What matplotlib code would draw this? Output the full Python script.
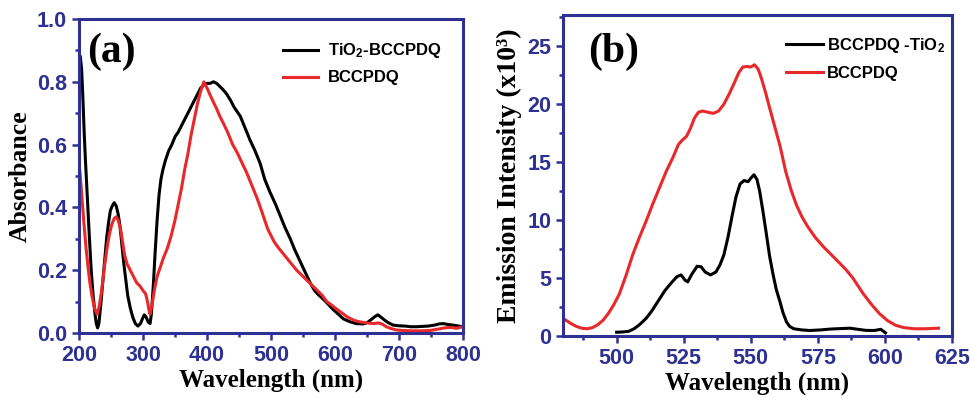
import matplotlib.pyplot as plt
from matplotlib.ticker import MultipleLocator

# Absorption spectra (a)
wl_abs_tio2 = [200, 202, 204, 206, 208, 210, 213, 216, 219, 222, 225, 227, 229, 231, 234, 237,
               240, 243, 246, 249, 252, 255, 258, 261, 264, 267, 270, 273, 276, 280, 284, 288,
               292, 296, 299, 302, 305, 308, 311, 313, 316, 319, 322, 325, 328, 331, 335, 340,
               345, 350, 355, 360, 365, 370, 375, 380, 385, 390, 395, 400, 405, 410, 415, 420,
               425, 431, 437, 442, 447, 452, 460, 467, 475, 483, 490, 498, 507, 515, 522, 530,
               537, 545, 553, 561, 568, 575, 583, 590, 597, 605, 613, 623, 633, 644, 650, 656,
               662, 667, 672, 678, 684, 691, 700, 710, 718, 727, 736, 745, 755, 763, 769, 777,
               785, 793, 800]
abs_tio2 = [0.89, 0.88, 0.84, 0.75, 0.64, 0.55, 0.43, 0.31, 0.20, 0.12, 0.06, 0.03, 0.016, 0.03,
            0.09, 0.16, 0.23, 0.30, 0.35, 0.39, 0.405, 0.415, 0.405, 0.38, 0.34, 0.28, 0.22,
            0.17, 0.12, 0.08, 0.05, 0.03, 0.022, 0.03, 0.045, 0.058, 0.05, 0.035, 0.03, 0.06,
            0.15, 0.26, 0.36, 0.44, 0.49, 0.52, 0.55, 0.58, 0.60, 0.625, 0.64, 0.66, 0.68, 0.70,
            0.72, 0.74, 0.76, 0.78, 0.79, 0.795, 0.795, 0.80, 0.795, 0.785, 0.775, 0.76, 0.74,
            0.72, 0.705, 0.69, 0.65, 0.615, 0.58, 0.54, 0.49, 0.45, 0.41, 0.37, 0.335, 0.30,
            0.265, 0.23, 0.195, 0.16, 0.135, 0.12, 0.105, 0.09, 0.075, 0.06, 0.045, 0.036, 0.03,
            0.029, 0.033, 0.042, 0.052, 0.058, 0.05, 0.04, 0.032, 0.025, 0.023, 0.022, 0.02,
            0.02, 0.021, 0.022, 0.025, 0.029, 0.03, 0.027, 0.025, 0.022, 0.02]

wl_abs_dye = [200, 202, 205, 208, 211, 214, 217, 220, 224, 228, 231, 235, 239, 243, 247, 251,
              255, 258, 261, 265, 268, 271, 275, 280, 285, 290, 295, 300, 304, 307, 309, 311,
              314, 318, 322, 327, 332, 338, 344, 350, 355, 360, 365, 370, 375, 380, 385, 390,
              395, 400, 405, 410, 415, 420, 425, 432, 440, 447, 455, 462, 470, 478, 485, 490,
              495, 500, 505, 512, 520, 530, 540, 550, 560, 570, 580, 587, 594, 600, 610, 620,
              630, 640, 650, 660, 668, 674, 680, 688, 695, 705, 720, 735, 748, 760, 770, 780,
              790, 800]
abs_dye = [0.54, 0.50, 0.42, 0.34, 0.27, 0.21, 0.16, 0.12, 0.08, 0.06, 0.08, 0.13, 0.20, 0.26,
           0.31, 0.345, 0.365, 0.37, 0.36, 0.33, 0.29, 0.25, 0.22, 0.20, 0.18, 0.16, 0.15,
           0.135, 0.125, 0.10, 0.075, 0.06, 0.09, 0.14, 0.18, 0.21, 0.24, 0.27, 0.31, 0.36,
           0.41, 0.46, 0.52, 0.57, 0.63, 0.68, 0.73, 0.77, 0.80, 0.78, 0.757, 0.735, 0.714,
           0.69, 0.67, 0.64, 0.60, 0.575, 0.54, 0.51, 0.47, 0.43, 0.39, 0.36, 0.33, 0.31, 0.29,
           0.27, 0.25, 0.225, 0.20, 0.18, 0.16, 0.14, 0.12, 0.10, 0.09, 0.08, 0.065, 0.05,
           0.04, 0.035, 0.032, 0.03, 0.032, 0.028, 0.02, 0.014, 0.01, 0.008, 0.007, 0.007,
           0.008, 0.012, 0.016, 0.018, 0.015, 0.02]

# Emission spectra (b), intensity in units of 10^3
wl_em_tio2 = [500, 502, 504.5, 506.5, 508.5, 511, 513, 515.5, 518, 520.5, 522.5, 524, 525.5,
              526.5, 528, 530, 531.5, 533, 535, 537, 538.5, 540, 541.5, 543, 544.5, 546, 547.5,
              549, 550, 551.2, 552.3, 553.3, 554.5, 555.8, 557, 558.3, 559.5, 560.8, 562, 563.3,
              564.5, 566, 569, 572, 576, 580, 584, 587, 590, 593, 596, 598.5, 600.2]
em_tio2 = [0.3, 0.32, 0.38, 0.6, 0.95, 1.5, 2.1, 3.0, 3.9, 4.6, 5.1, 5.25, 4.8, 4.65, 5.3, 6.0,
           5.95, 5.5, 5.25, 5.5, 6.1, 7.0, 8.5, 10.3, 12.0, 13.1, 13.4, 13.3, 13.6, 13.9, 13.5,
           12.5, 10.8, 8.8, 6.9, 5.3, 4.0, 3.0, 2.0, 1.2, 0.8, 0.6, 0.5, 0.45, 0.5, 0.58, 0.62,
           0.65, 0.55, 0.46, 0.45, 0.55, 0.25]

wl_em_dye = [481, 483, 485, 487, 489, 491, 493, 495, 497, 499, 501, 503.5, 506, 508.5, 511,
             513.5, 516, 518.5, 521, 523, 524.5, 526, 527.5, 529, 530.5, 532, 534, 536, 538,
             540, 542, 544, 545.5, 547, 548.5, 550, 551.4, 552.8, 554, 555.5, 557, 559, 561,
             563, 565, 567, 569, 571, 574, 577, 580, 583, 585.5, 588, 590, 592, 595, 598, 601,
             604, 607, 611, 615, 620]
em_dye = [1.35, 1.05, 0.8, 0.65, 0.6, 0.7, 0.95, 1.35, 1.95, 2.7, 3.6, 5.2, 7.0, 8.5, 9.9, 11.4,
          12.8, 14.2, 15.4, 16.5, 16.9, 17.2, 17.9, 18.8, 19.3, 19.4, 19.3, 19.2, 19.4, 20.0,
          20.9, 21.9, 22.7, 23.2, 23.25, 23.2, 23.4, 23.0, 22.2, 21.0, 19.7, 18.0, 16.3, 14.2,
          12.6, 11.3, 10.3, 9.5, 8.5, 7.7, 7.0, 6.3, 5.7, 5.0, 4.3, 3.6, 2.7, 1.9, 1.3, 0.9,
          0.7, 0.6, 0.6, 0.65]

frame_color = '#2e3192'
red = '#e8282b'
sans = ['Liberation Sans', 'DejaVu Sans']
serif = ['Liberation Serif', 'DejaVu Serif']

# subscripts in the legend use the same bold sans as the legend text
plt.rcParams['mathtext.fontset'] = 'custom'
plt.rcParams['mathtext.rm'] = 'Liberation Sans:bold'
plt.rcParams['mathtext.it'] = 'Liberation Sans:bold'
plt.rcParams['mathtext.bf'] = 'Liberation Sans:bold'

fig = plt.figure(figsize=(9.71, 3.98), dpi=100)
ax1 = fig.add_axes([0.0814, 0.1633, 0.3955, 0.789])
ax2 = fig.add_axes([0.5798, 0.1565, 0.4006, 0.806])


def style_axes(ax):
    for sp in ax.spines.values():
        sp.set_color(frame_color)
        sp.set_linewidth(2.2)
    ax.tick_params(which='both', direction='out', colors=frame_color, width=1.8,
                   top=False, right=False)
    ax.tick_params(which='major', length=5)
    ax.tick_params(which='minor', length=3)
    for lab in ax.get_xticklabels() + ax.get_yticklabels():
        lab.set_family(sans)
        lab.set_fontweight('bold')
        lab.set_fontsize(15.5)
        lab.set_color(frame_color)


# (a) absorbance
ax1.plot(wl_abs_tio2, abs_tio2, color='black', lw=2.2, label=r'TiO$_2$-BCCPDQ')
ax1.plot(wl_abs_dye, abs_dye, color=red, lw=2.2, label='BCCPDQ')
ax1.set_xlim(200, 800)
ax1.set_ylim(0, 1.0)
ax1.xaxis.set_major_locator(MultipleLocator(100))
ax1.xaxis.set_minor_locator(MultipleLocator(50))
ax1.yaxis.set_minor_locator(MultipleLocator(0.1))
ax1.set_yticks([0, 0.2, 0.4, 0.6, 0.8, 1.0], ['0.0', '0.2', '0.4', '0.6', '0.8', '1.0'])
style_axes(ax1)
ax1.set_xlabel('Wavelength (nm)', family=serif, fontweight='bold', fontsize=18, labelpad=2)
ax1.set_ylabel('Absorbance', family=serif, fontweight='bold', fontsize=18.5, labelpad=4)
ax1.text(0.02, 0.895, '(a)', transform=ax1.transAxes, family=serif, fontweight='bold',
         fontsize=30, va='center', ha='left')
ax1.legend(loc='upper left', bbox_to_anchor=(0.51, 0.955), frameon=False,
           borderpad=0, handlelength=2.1, handletextpad=0.6, labelspacing=0.6,
           prop={'family': sans, 'weight': 'bold', 'size': 12})

# (b) emission
ax2.plot(wl_em_tio2, em_tio2, color='black', lw=2.2, label=r'BCCPDQ -TiO$_2$')
ax2.plot(wl_em_dye, em_dye, color=red, lw=2.2, label='BCCPDQ')
ax2.set_xlim(480, 625)
ax2.set_ylim(0, 27.7)
ax2.xaxis.set_minor_locator(MultipleLocator(12.5))
ax2.yaxis.set_major_locator(MultipleLocator(5))
ax2.yaxis.set_minor_locator(MultipleLocator(2.5))
ax2.set_xticks([500, 525, 550, 575, 600, 625])
style_axes(ax2)
ax2.set_xlabel('Wavelength (nm)', family=serif, fontweight='bold', fontsize=18, labelpad=2)
ax2.set_ylabel('Emission Intensity (x10³)', family=serif, fontweight='bold', fontsize=20,
               labelpad=4)
ax2.text(0.064, 0.885, '(b)', transform=ax2.transAxes, family=serif, fontweight='bold',
         fontsize=30, va='center', ha='left')
ax2.legend(loc='upper left', bbox_to_anchor=(0.553, 0.96), frameon=False,
           borderpad=0, handlelength=2.2, handletextpad=0.25, labelspacing=0.65,
           prop={'family': sans, 'weight': 'bold', 'size': 12})

fig.savefig('out.png', dpi=100)
